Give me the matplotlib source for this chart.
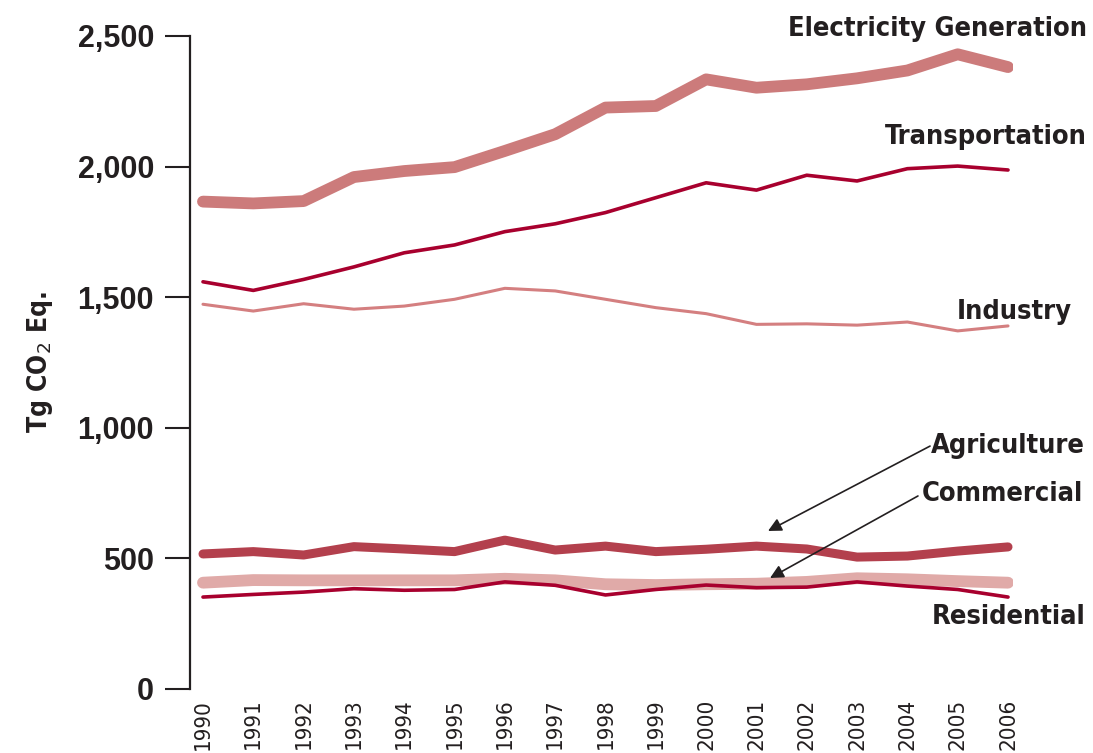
import matplotlib
matplotlib.use("Agg")
import matplotlib.pyplot as plt

years = list(range(1990, 2007))
electricity = [1866, 1859, 1868, 1960, 1983, 1998, 2060, 2124, 2226, 2232, 2334, 2302, 2315, 2338, 2368, 2430, 2381]
transportation = [1559, 1526, 1568, 1616, 1670, 1700, 1751, 1781, 1824, 1881, 1938, 1910, 1967, 1945, 1992, 2002, 1987]
industry = [1473, 1447, 1475, 1454, 1466, 1492, 1534, 1524, 1492, 1460, 1437, 1396, 1398, 1393, 1405, 1371, 1390]
agriculture = [517, 526, 513, 545, 536, 526, 570, 532, 547, 526, 535, 547, 536, 505, 509, 528, 544]
commercial = [407, 417, 416, 416, 416, 416, 422, 416, 401, 398, 401, 403, 410, 424, 420, 413, 407]
residential = [352, 362, 371, 384, 378, 381, 410, 397, 360, 381, 398, 388, 390, 410, 394, 381, 352]

yticks = [0, 500, 1000, 1500, 2000, 2500]
ytick_labels = ["0", "500", "1,000", "1,500", "2,000", "2,500"]

COND = dict(fontfamily="DejaVu Sans", fontstretch="condensed")
TXT = "#231f20"

fig = plt.figure(figsize=(10.93, 7.53), dpi=100)
ax = fig.add_axes([190 / 1093, 64 / 753, (1013 - 190) / 1093, 653 / 753])

ax.plot(years, electricity, color="#cc7b7b", lw=8.5, solid_capstyle="round", solid_joinstyle="round", zorder=3)
ax.plot(years, transportation, color="#a8002e", lw=2.6, solid_capstyle="round", solid_joinstyle="round", zorder=3)
ax.plot(years, industry, color="#d47f80", lw=2.2, solid_capstyle="round", solid_joinstyle="round", zorder=3)
ax.plot(years, agriculture, color="#b3404d", lw=6.5, solid_capstyle="round", solid_joinstyle="round", zorder=3)
ax.plot(years, commercial, color="#e0aaa8", lw=8.5, solid_capstyle="round", solid_joinstyle="round", zorder=2)
ax.plot(years, residential, color="#a8002e", lw=2.6, solid_capstyle="round", solid_joinstyle="round", zorder=4)

ax.set_xlim(1989.742, 2006.099)
ax.set_ylim(0, 2500)

for s in ["top", "right", "bottom"]:
    ax.spines[s].set_visible(False)
ax.spines["left"].set_linewidth(1.6)
ax.spines["left"].set_color(TXT)

ax.set_yticks(yticks)
ax.set_yticklabels(ytick_labels, fontfamily="Liberation Sans", fontstretch="normal",
                   fontweight="bold", fontsize=22, color=TXT)
ax.tick_params(axis="y", direction="out", length=18, width=1.5, pad=8, colors=TXT)

ax.set_xticks(years)
ax.set_xticklabels([str(y) for y in years], rotation=90, fontsize=16, color=TXT, **COND)
ax.tick_params(axis="x", length=0, pad=7)

ax.set_ylabel("Tg CO$_2$ Eq.", fontweight="bold", fontsize=19, color=TXT, labelpad=16, **COND)

lab = dict(fontweight="bold", fontsize=19.5, color=TXT, ha="right", va="baseline", clip_on=False, **COND)
ax.text(2007.57, 2500, "Electricity Generation", **lab)
ax.text(2007.57, 2087, "Transportation", **lab)
ax.text(2007.27, 1417, "Industry", **lab)
ax.text(2007.53, 903, "Agriculture", **lab)
ax.text(2007.49, 720, "Commercial", **lab)
ax.text(2007.53, 249, "Residential", **lab)

arr = dict(arrowstyle="-|>", color=TXT, lw=1.2, mutation_scale=20, shrinkA=0, shrinkB=0)
ax.annotate("", xy=(2001.23, 605), xytext=(2004.45, 930), arrowprops=arr, annotation_clip=False)
ax.annotate("", xy=(2001.27, 425), xytext=(2004.21, 739), arrowprops=arr, annotation_clip=False)

fig.savefig("out.png", dpi=100)
